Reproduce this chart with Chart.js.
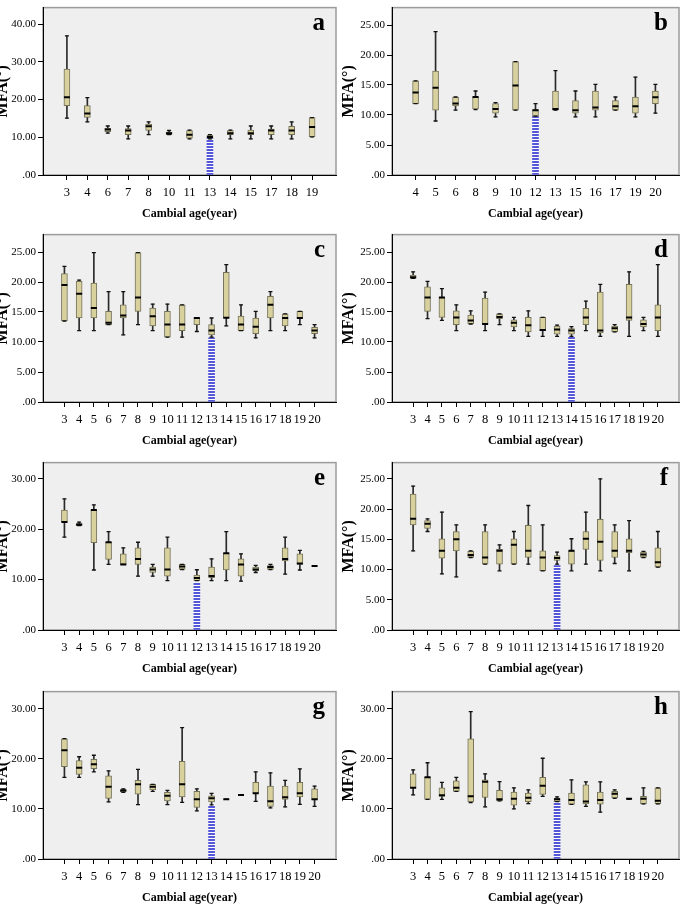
<!DOCTYPE html>
<html>
<head>
<meta charset="utf-8">
<script src="https://cdn.jsdelivr.net/npm/chart.js@4.4.0/dist/chart.umd.min.js"></script>
<style>
  html, body { margin: 0; padding: 0; background: #fff; }
  body { position: relative; width: 685px; height: 904px; overflow: hidden; }
  canvas { position: absolute; }
</style>
</head>
<body>
<canvas id="a"></canvas>
<canvas id="b"></canvas>
<canvas id="c"></canvas>
<canvas id="d"></canvas>
<canvas id="e"></canvas>
<canvas id="f"></canvas>
<canvas id="g"></canvas>
<canvas id="h"></canvas>
<script>
// box plot values: whisker low, Q1, median, Q3, whisker high
const agesA = [3, 4, 6, 7, 8, 10, 11, 13, 14, 15, 17, 18, 19];
const lowA = [15.1, 14.1, 11.1, 9.6, 10.7, 10.7, 9.6, 9.6, 9.6, 9.6, 9.6, 9.6, 10.1];
const q1A = [18.4, 15.3, 11.5, 10.7, 11.8, 10.7, 9.8, 9.7, 10.7, 10.7, 10.7, 10.7, 10.1];
const medA = [20.6, 16.3, 12.1, 11.8, 12.9, 11.1, 10.7, 10.1, 11.1, 11.1, 11.8, 11.8, 12.7];
const q3A = [28.1, 18.4, 12.4, 12.3, 13.5, 11.4, 11.8, 10.6, 11.8, 11.9, 12.2, 12.9, 15.2];
const highA = [36.9, 20.5, 13.0, 13.0, 14.1, 11.8, 11.9, 10.7, 11.9, 13.0, 13.0, 14.1, 15.2];

const agesB = [4, 5, 6, 8, 9, 10, 12, 13, 15, 16, 17, 19, 20];
const lowB = [11.9, 9.0, 10.8, 10.9, 9.7, 10.8, 9.8, 10.8, 9.7, 9.7, 10.8, 9.7, 10.3];
const q1B = [11.9, 10.8, 11.5, 11.0, 10.3, 10.8, 9.8, 10.8, 10.3, 10.8, 10.8, 10.3, 11.9];
const medB = [13.75, 14.55, 11.9, 13.0, 11.0, 14.9, 10.8, 11.0, 10.8, 11.25, 11.45, 11.45, 12.95];
const q3B = [15.7, 17.3, 13.0, 13.0, 11.9, 18.9, 10.9, 14.0, 12.4, 14.0, 12.4, 13.0, 14.0];
const highB = [15.7, 23.9, 13.0, 14.0, 12.05, 18.9, 11.9, 17.4, 14.0, 15.1, 13.0, 16.3, 15.1];

const agesFull = [3, 4, 5, 6, 7, 8, 9, 10, 11, 12, 13, 14, 15, 16, 17, 18, 19, 20];

const lowC = [13.5, 11.9, 11.9, 12.9, 11.2, 12.9, 11.9, 10.8, 10.8, 11.75, 10.8, 12.7, 11.9, 10.7, 11.9, 11.9, 12.9, 10.7];
const q1C = [13.5, 14.0, 14.0, 12.9, 14.0, 15.1, 12.7, 10.8, 11.9, 12.9, 11.2, 14.05, 11.9, 11.4, 14.0, 12.7, 14.0, 11.4];
const medC = [19.5, 18.05, 15.65, 13.2, 14.4, 17.4, 14.3, 12.9, 12.9, 14.0, 11.9, 14.05, 12.9, 12.55, 16.2, 14.0, 14.0, 11.9];
const q3C = [21.4, 20.1, 19.8, 15.1, 16.2, 24.9, 15.65, 15.1, 16.2, 14.0, 12.9, 21.6, 14.3, 14.0, 17.6, 14.7, 15.1, 12.45];
const highC = [22.6, 20.3, 24.9, 18.4, 18.4, 24.9, 16.3, 16.3, 16.2, 14.0, 14.0, 22.9, 16.2, 15.1, 18.4, 14.7, 15.1, 12.9];

const lowD = [20.6, 13.9, 13.6, 11.9, 13.0, 11.9, 12.9, 11.9, 10.95, 10.95, 10.95, 10.95, 11.9, 10.95, 11.7, 10.95, 11.9, 10.95];
const q1D = [20.6, 15.1, 14.1, 12.9, 13.0, 13.0, 13.9, 12.5, 11.7, 11.9, 11.3, 11.3, 12.9, 11.5, 11.7, 13.6, 12.5, 11.9];
const medD = [20.8, 17.4, 17.4, 14.1, 13.6, 13.0, 14.15, 13.2, 12.8, 12.0, 12.1, 11.9, 14.1, 11.9, 12.3, 14.1, 13.0, 14.1];
const q3D = [21.15, 19.2, 17.4, 15.2, 14.5, 17.3, 14.7, 13.7, 14.1, 14.1, 12.65, 12.25, 15.6, 18.3, 12.65, 19.6, 13.7, 16.2];
const highD = [21.7, 20.1, 18.9, 16.2, 15.2, 18.3, 14.7, 14.1, 15.2, 14.1, 12.8, 12.55, 16.8, 19.6, 12.9, 21.7, 14.1, 22.9];

const lowE = [18.4, 20.7, 11.9, 13.0, 13.0, 10.7, 10.7, 9.8, 12.0, 9.8, 9.8, 9.8, 9.7, 11.4, 12.0, 11.1, 11.9, 12.7];
const q1E = [21.4, 20.7, 17.3, 14.0, 13.0, 13.0, 11.4, 10.7, 12.0, 9.8, 10.4, 11.9, 10.7, 11.7, 12.0, 13.7, 13.0, 12.7];
const medE = [21.4, 20.9, 23.8, 17.4, 13.0, 14.1, 12.0, 12.0, 12.6, 10.3, 10.7, 15.2, 13.0, 12.0, 12.5, 14.1, 13.2, 12.7];
const q3E = [23.8, 21.1, 23.8, 17.4, 15.1, 16.3, 12.5, 16.3, 13.0, 10.9, 12.5, 15.2, 14.1, 12.5, 12.8, 16.3, 15.1, 12.7];
const highE = [26.0, 21.4, 24.8, 19.5, 16.3, 17.4, 13.0, 18.4, 13.0, 11.95, 14.1, 19.5, 15.1, 12.8, 13.0, 18.4, 15.8, 12.7];

const lowF = [13.1, 16.3, 9.3, 8.8, 12.0, 10.9, 9.8, 10.9, 10.9, 9.8, 10.9, 9.8, 10.9, 9.8, 11.0, 9.8, 12.0, 10.4];
const q1F = [17.4, 16.8, 11.9, 13.1, 12.0, 10.9, 10.9, 10.9, 12.0, 9.8, 11.5, 10.9, 13.35, 11.5, 12.0, 12.8, 12.0, 10.4];
const medF = [18.4, 17.6, 13.1, 15.0, 12.4, 12.0, 13.1, 14.1, 13.1, 12.0, 11.9, 13.1, 15.1, 14.6, 13.1, 13.1, 12.5, 11.2];
const q3F = [22.5, 18.1, 15.1, 16.3, 13.0, 16.3, 13.35, 15.1, 17.3, 13.1, 12.3, 13.1, 16.3, 18.3, 16.3, 15.1, 12.9, 13.6];
const highF = [23.8, 18.4, 19.5, 17.4, 13.1, 17.4, 14.1, 16.3, 20.6, 17.4, 12.9, 15.1, 19.5, 25.0, 17.4, 18.1, 13.0, 16.3];

const lowG = [16.3, 16.3, 17.4, 11.4, 13.3, 10.85, 13.5, 10.85, 11.3, 9.6, 10.8, 11.9, 12.75, 11.5, 10.2, 10.4, 10.9, 10.5];
const q1G = [18.4, 16.9, 18.0, 12.1, 13.4, 12.95, 13.8, 11.6, 12.4, 10.3, 11.4, 11.9, 12.75, 13.1, 10.5, 11.9, 12.4, 11.8];
const medG = [21.7, 18.2, 18.9, 14.4, 13.65, 14.9, 14.4, 12.6, 14.9, 11.9, 12.1, 11.9, 12.75, 13.1, 11.5, 12.3, 13.1, 11.9];
const q3G = [24.0, 19.65, 19.9, 16.6, 13.85, 15.7, 14.9, 13.3, 19.5, 13.5, 12.6, 11.9, 12.75, 15.3, 14.55, 14.55, 15.3, 14.0];
const highG = [24.0, 20.4, 20.7, 17.6, 14.0, 17.9, 14.9, 13.7, 26.2, 14.0, 13.1, 11.9, 12.75, 17.4, 17.2, 15.7, 18.0, 14.55];

const lowH = [12.8, 11.9, 11.9, 13.5, 11.25, 10.4, 11.6, 10.0, 11.05, 12.5, 11.45, 10.9, 10.5, 9.35, 12.1, 12.0, 11.0, 11.0];
const q1H = [14.2, 11.9, 12.5, 13.5, 11.45, 12.3, 11.6, 10.75, 11.45, 12.9, 11.45, 10.9, 11.0, 10.95, 12.2, 12.0, 11.0, 11.0];
const medH = [14.2, 16.3, 12.7, 14.2, 12.5, 15.4, 11.9, 12.0, 12.2, 14.6, 11.9, 11.75, 11.45, 11.75, 13.0, 12.0, 12.0, 11.6];
const q3H = [17.0, 16.3, 14.2, 15.6, 24.0, 15.8, 13.7, 13.35, 13.15, 16.3, 12.1, 13.15, 14.8, 13.35, 13.5, 12.0, 12.5, 14.2];
const highH = [17.8, 19.2, 15.3, 16.3, 29.4, 17.0, 15.45, 14.2, 13.8, 20.1, 12.4, 15.8, 15.4, 15.4, 13.8, 12.0, 14.2, 14.2];

// hatched reference bar: cambial age and its height, per panel a..h
const refAges = [13, 12, 13, 14, 12, 13, 13, 13];
const refValues = [9.7, 9.8, 10.7, 10.8, 9.35, 10.65, 10.7, 11.45];

// y axis top and tick step per panel a..h
const yMax = [44.4, 27.9, 27.9, 27.9, 33.2, 27.7, 33.4, 33.4];
const yStep = [10, 5, 5, 5, 10, 5, 10, 10];

const SERIF = '"Liberation Serif", "Times New Roman", serif';
const PLOT_H = 174;
const XAXIS_H = 44;

const panels = [
  { id: 'a', ages: agesA, low: lowA, q1: q1A, med: medA, q3: q3A, high: highA },
  { id: 'b', ages: agesB, low: lowB, q1: q1B, med: medB, q3: q3B, high: highB },
  { id: 'c', ages: agesFull, low: lowC, q1: q1C, med: medC, q3: q3C, high: highC },
  { id: 'd', ages: agesFull, low: lowD, q1: q1D, med: medD, q3: q3D, high: highD },
  { id: 'e', ages: agesFull, low: lowE, q1: q1E, med: medE, q3: q3E, high: highE },
  { id: 'f', ages: agesFull, low: lowF, q1: q1F, med: medF, q3: q3F, high: highF },
  { id: 'g', ages: agesFull, low: lowG, q1: q1G, med: medG, q3: q3G, high: highG },
  { id: 'h', ages: agesFull, low: lowH, q1: q1H, med: medH, q3: q3H, high: highH },
];

// canvas placement per row / column
const rowTop = [-1, 226, 454, 683];
const rowHeight = [227, 228, 229, 221];
const cols = [
  { x: 0, w: 342, axisW: 43, padR: 5, titlePad: -6.5 },
  { x: 342, w: 343, axisW: 50, padR: 1, titlePad: -2.5 },
];

const framePlugin = {
  id: 'frame',
  beforeDraw(chart) {
    const { ctx, chartArea: a } = chart;
    ctx.save();
    ctx.fillStyle = '#efefef';
    ctx.fillRect(a.left, a.top, a.right - a.left, a.bottom - a.top);
    ctx.strokeStyle = '#9c9c9c';
    ctx.lineWidth = 1.5;
    ctx.strokeRect(a.left, a.top, a.right - a.left, a.bottom - a.top);
    ctx.restore();
  },
  afterDraw(chart, args, opts) {
    const { ctx, chartArea: a } = chart;
    ctx.save();
    ctx.font = `bold 25px ${SERIF}`;
    ctx.fillStyle = '#000';
    ctx.textAlign = 'right';
    ctx.textBaseline = 'alphabetic';
    ctx.fillText(opts.letter, a.right - 11, a.top + 22);
    ctx.restore();
  },
};

function hatchPattern(ctx) {
  const tile = document.createElement('canvas');
  tile.width = 6;
  tile.height = 3;
  const t = tile.getContext('2d');
  t.fillStyle = '#ffffff';
  t.fillRect(0, 0, 6, 3);
  t.fillStyle = '#5457d8';
  t.fillRect(0, 0, 6, 2);
  return ctx.createPattern(tile, 'repeat');
}

function makePanel(p, k) {
  const col = cols[k % 2];
  const row = Math.floor(k / 2);
  const h = rowHeight[row];
  const canvas = document.getElementById(p.id);
  canvas.width = col.w;
  canvas.height = h;
  canvas.style.left = col.x + 'px';
  canvas.style.top = rowTop[row] + 'px';
  const ctx = canvas.getContext('2d');

  const n = p.ages.length;
  const idx = p.ages.map((_, i) => i);
  const plotW = col.w - col.axisW - col.padR;
  const margin = n > 15 ? 21.5 : 24;
  const spacing = (plotW - 2 * margin) / (n - 1);
  const ext = margin / spacing;
  const refIdx = p.ages.indexOf(refAges[k]);
  const step = yStep[k];

  const caps = [];
  idx.forEach((i) => {
    caps.push({ x: i, y: p.low[i] });
    caps.push({ x: i, y: p.high[i] });
  });

  return new Chart(ctx, {
    type: 'bar',
    data: {
      datasets: [
        {
          type: 'line',
          data: idx.map((i) => ({ x: i, y: p.med[i] })),
          showLine: false,
          pointStyle: 'line',
          pointRadius: 3,
          pointBorderWidth: 2,
          pointBorderColor: '#000',
        },
        {
          type: 'line',
          data: caps,
          showLine: false,
          pointStyle: 'line',
          pointRadius: 2,
          pointBorderWidth: 1.3,
          pointBorderColor: '#111',
        },
        {
          data: idx.map((i) => ({ x: i, y: [p.q1[i], p.q3[i]] })),
          backgroundColor: '#d8d09d',
          borderColor: '#75725a',
          borderWidth: 1,
          borderSkipped: false,
          barThickness: 6,
          grouped: false,
        },
        {
          data: idx.map((i) => ({ x: i, y: [p.low[i], p.high[i]] })),
          backgroundColor: '#2a2a2a',
          barThickness: 1,
          grouped: false,
        },
        {
          data: [{ x: refIdx, y: [0, refValues[k]] }],
          backgroundColor: hatchPattern(ctx),
          barThickness: 6,
          grouped: false,
        },
      ],
    },
    options: {
      responsive: false,
      animation: false,
      events: [],
      layout: {
        padding: { left: 0, right: col.padR, top: 2, bottom: h - 2 - PLOT_H - XAXIS_H },
      },
      plugins: {
        legend: { display: false },
        tooltip: { enabled: false },
        frame: { letter: p.id },
      },
      scales: {
        x: {
          type: 'linear',
          offset: false,
          min: -ext,
          max: n - 1 + ext,
          afterBuildTicks: (sc) => { sc.ticks = idx.map((v) => ({ value: v })); },
          afterFit: (sc) => { sc.height = XAXIS_H; },
          grid: { offset: false, drawOnChartArea: false, tickLength: 5, color: '#000' },
          border: { color: '#000', width: 1 },
          ticks: {
            autoSkip: false,
            maxRotation: 0,
            padding: 5,
            color: '#000',
            font: { family: SERIF, size: 12.5 },
            callback: (v) => String(p.ages[v]),
          },
          title: {
            display: true,
            text: 'Cambial age(year)',
            color: '#000',
            font: { family: SERIF, size: 12, weight: 'bold' },
            padding: { top: 0, bottom: -2 },
          },
        },
        y: {
          min: 0,
          max: yMax[k],
          afterBuildTicks: (sc) => {
            sc.ticks = sc.ticks.filter((t) => Math.abs(t.value / step - Math.round(t.value / step)) < 1e-6);
          },
          afterFit: (sc) => { sc.width = col.axisW; },
          grid: { drawOnChartArea: false, tickLength: 5, color: '#000' },
          border: { color: '#000', width: 1 },
          ticks: {
            stepSize: step,
            padding: 2,
            color: '#000',
            font: { family: SERIF, size: 11 },
            callback: (v) => (v === 0 ? '.00' : v.toFixed(2)),
          },
          title: {
            display: true,
            text: 'MFA(°)',
            color: '#000',
            font: { family: SERIF, size: 16, weight: 'bold' },
            padding: { top: col.titlePad, bottom: 0 },
          },
        },
      },
    },
    plugins: [framePlugin],
  });
}

panels.forEach(makePanel);
</script>
</body>
</html>
